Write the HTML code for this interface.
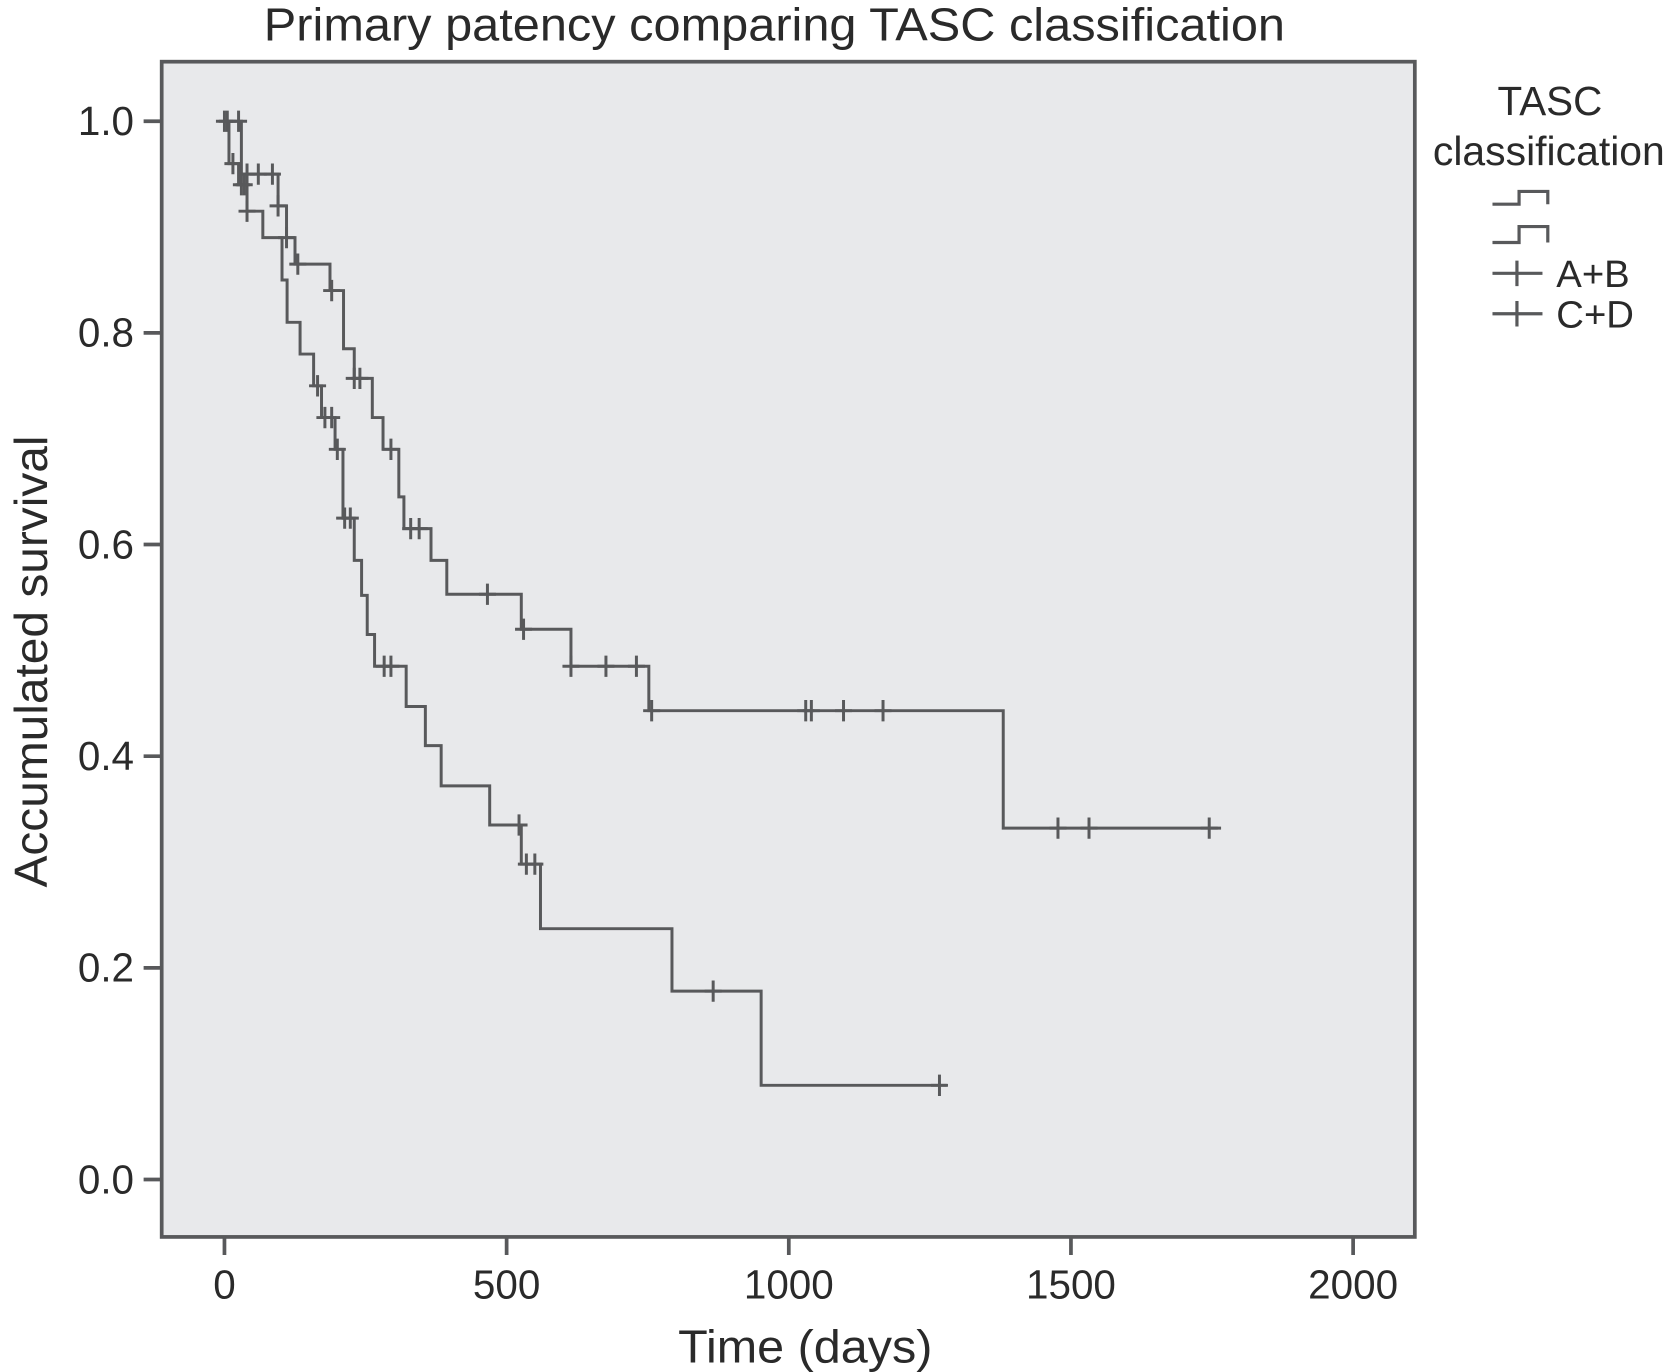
<!DOCTYPE html>
<html><head><meta charset="utf-8"><style>
body{margin:0;background:#fff}
svg{display:block}
text{font-family:"Liberation Sans",sans-serif;fill:#2a2a2a}
</style></head><body>
<svg id="chart" width="1668" height="1372" viewBox="0 0 1568 1290" preserveAspectRatio="none" xmlns="http://www.w3.org/2000/svg">
<text x="728" y="38" font-size="44" text-anchor="middle" textLength="960" lengthAdjust="spacingAndGlyphs">Primary patency comparing TASC classification</text>
<rect x="152" y="58" width="1178" height="1105" fill="#e8e9eb" stroke="#58595b" stroke-width="3.5"/>
<g id="axes"></g>
<g id="series"></g>
<text transform="translate(44,622) rotate(-90)" font-size="44" text-anchor="middle" textLength="425" lengthAdjust="spacingAndGlyphs">Accumulated survival</text>
<text x="757" y="1281" font-size="44" text-anchor="middle" textLength="239" lengthAdjust="spacingAndGlyphs">Time (days)</text>
<g>
<text x="1457" y="108" font-size="38" text-anchor="middle">TASC</text>
<text x="1456" y="155" font-size="38" text-anchor="middle" textLength="218" lengthAdjust="spacingAndGlyphs">classification</text>
<path d="M1403 192 H1428 V180 H1455 V192" fill="none" stroke="#58595b" stroke-width="3"/>
<path d="M1403 228 H1428 V213 H1455 V228" fill="none" stroke="#58595b" stroke-width="3"/>
<g><path d="M1403 257 H1450 M1426 245 V269" stroke="#58595b" stroke-width="3"/><text x="1463" y="270" font-size="36">A+B</text></g>
<g><path d="M1403 295 H1450 M1426 283 V307" stroke="#58595b" stroke-width="3"/><text x="1463" y="308" font-size="36">C+D</text></g>
</g>
</svg>
<script>
const xTicks=[0,500,1000,1500,2000];
const yTicks=[0.0,0.2,0.4,0.6,0.8,1.0];
const abTimes=[0,30,95,110,125,187,211,230,262,281,309,318,366,394,526,614,752,1380,1766];
const abSurv=[1.0,0.95,0.92,0.89,0.865,0.84,0.785,0.757,0.72,0.69,0.645,0.615,0.585,0.553,0.52,0.485,0.443,0.332,0.332];
const abCensT=[5,25,40,60,85,95,110,130,190,230,240,295,330,345,466,530,614,676,730,757,1030,1040,1097,1167,1477,1532,1745];
const cdTimes=[0,8,25,40,68,102,111,134,158,172,196,210,230,243,253,266,322,356,384,470,526,560,793,951,1280];
const cdSurv=[1.0,0.96,0.94,0.915,0.89,0.85,0.81,0.78,0.75,0.72,0.69,0.625,0.585,0.552,0.515,0.485,0.447,0.41,0.372,0.335,0.298,0.237,0.178,0.089,0.089];
const cdCensT=[0,15,30,35,40,165,178,190,200,213,223,283,295,522,535,550,866,1267];
const X=v=>211+v*(1272-211)/2000;
const Y=v=>1109-v*995;
const NS="http://www.w3.org/2000/svg";
const axes=document.getElementById('axes'),series=document.getElementById('series');
function mk(tag,attrs,parent){const e=document.createElementNS(NS,tag);for(const k in attrs)e.setAttribute(k,attrs[k]);parent.appendChild(e);return e;}
xTicks.forEach(t=>{
 const l=mk('line',{x1:X(t),x2:X(t),y1:1163,y2:1180,stroke:'#58595b','stroke-width':3.5},axes);
 
 
 const tx=mk('text',{x:X(t),y:1221,'font-size':38,'text-anchor':'middle'},axes);tx.textContent=t;
 
 
});
yTicks.forEach(t=>{
 const l=mk('line',{x1:135,x2:152,y1:Y(t),y2:Y(t),stroke:'#58595b','stroke-width':3.5},axes);
 
 
 const tx=mk('text',{x:126,y:Y(t)+13,'font-size':38,'text-anchor':'end'},axes);tx.textContent=t.toFixed(1);
 
 
});
function survAt(times,surv,t){let s=surv[0];for(let i=0;i<times.length;i++){if(times[i]<=t)s=surv[i];}return s;}
function draw(times,surv,cens,name){
 let d='M'+X(times[0])+' '+Y(surv[0]);
 for(let i=1;i<times.length;i++){d+=' H'+X(times[i])+' V'+Y(surv[i]);}
 const p=mk('path',{d:d,fill:'none',stroke:'#58595b','stroke-width':2.8},series);
 
 
 cens.forEach(c=>{
  const x=X(c),y=Y(survAt(times,surv,c));
  const m=mk('path',{d:`M${x-8} ${y} H${x+8} M${x} ${y-10} V${y+10}`,stroke:'#58595b','stroke-width':2.8},series);
  
  
 });
}
draw(abTimes,abSurv,abCensT,'a-b');
draw(cdTimes,cdSurv,cdCensT,'c-d');
</script>
</body></html>
